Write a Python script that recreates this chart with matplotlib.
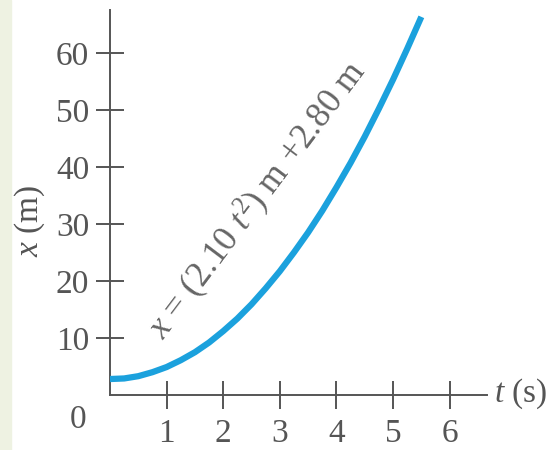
import numpy as np
import matplotlib
matplotlib.use('Agg')
import matplotlib.pyplot as plt
from matplotlib.patches import Rectangle

plt.rcParams['font.family'] = 'Liberation Serif'
plt.rcParams['mathtext.fontset'] = 'custom'
plt.rcParams['mathtext.rm'] = 'Liberation Serif'
plt.rcParams['mathtext.it'] = 'Liberation Serif:italic'

# curve
t_vals = [0, 0.25, 0.5, 0.75, 1.0, 1.25, 1.5, 1.75, 2.0, 2.25, 2.5, 2.75,
          3.0, 3.25, 3.5, 3.75, 4.0, 4.25, 4.5, 4.75, 5.0, 5.25, 5.5]
x_vals = [2.8, 2.9, 3.3, 4.0, 4.9, 6.1, 7.5, 9.2, 11.2, 13.4, 15.9, 18.7,
          21.7, 25.0, 28.5, 32.3, 36.4, 40.7, 45.3, 50.2, 55.3, 60.7, 66.3]
t_ticks = [1, 2, 3, 4, 5, 6]
x_ticks = [10, 20, 30, 40, 50, 60]

ink = '#555555'
blue = '#1ba1dd'

fig = plt.figure(figsize=(5.59, 4.5), dpi=100)
fig.patches.append(Rectangle((0, 0), 11 / 559, 1, transform=fig.transFigure,
                             color='#eef2e2', zorder=0))

ax = fig.add_axes([110 / 559, 55 / 450, 377 / 559, 385 / 450])
ax.patch.set_alpha(0)
ax.plot(t_vals, x_vals, color=blue, linewidth=4.5, solid_capstyle='butt',
        solid_joinstyle='round', zorder=3)

ax.set_xlim(0, 6.66)
ax.set_ylim(0, 67.5)
ax.set_xticks(t_ticks)
ax.set_yticks(x_ticks)

for side in ['top', 'right']:
    ax.spines[side].set_visible(False)
for side in ['left', 'bottom']:
    ax.spines[side].set_color(ink)
    ax.spines[side].set_linewidth(1.4)

ax.tick_params(direction='inout', length=20, width=1.4, color=ink,
               labelcolor=ink, labelsize=24)
ax.tick_params(axis='x', pad=7)
ax.tick_params(axis='y', pad=5)

ax.text(-0.57, -4.4, '0', fontsize=24, color=ink, ha='center', va='center',
        clip_on=False)
ax.text(6.78, 0.3, r'$t$ (s)', fontsize=24, color=ink, ha='left', va='center',
        clip_on=False)
ax.text(-1.42, 30.5, r'$x$ (m)', fontsize=24, color=ink, ha='center', va='center',
        rotation=90, clip_on=False)
ax.text(2.6, 34.3, r'$x$ = (2.10 $t^2$) m +2.80 m', fontsize=25.5, color='#666666',
        ha='center', va='center', rotation=53, rotation_mode='anchor')

fig.savefig('out.png', dpi=100)
